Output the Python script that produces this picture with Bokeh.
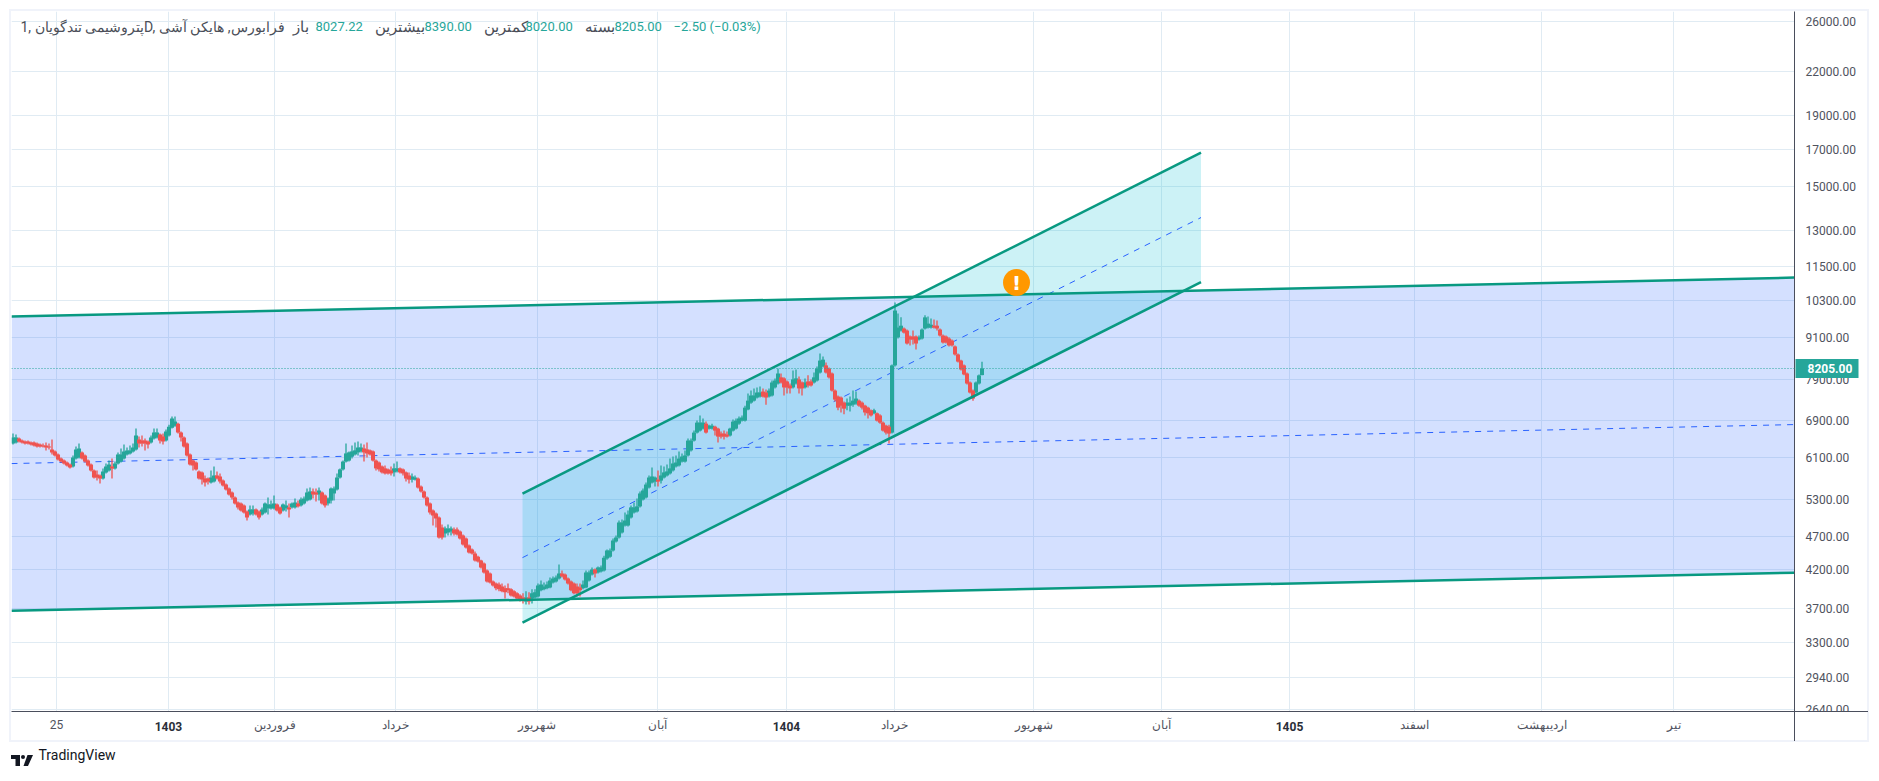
from bokeh.plotting import figure
from bokeh.embed import file_html
from bokeh.resources import INLINE
from bokeh.core.properties import value
from bokeh.layouts import column
from bokeh.models import (FixedTicker, NumeralTickFormatter, Label, Div, Title, LinearAxis, LogAxis,
                          Span, Range1d, ColumnDataSource)

opens = [
6393,6415,6500,6457,6436,6436,6415,6415,6393,6372,
6350,6350,6330,6270,6229,6166,6083,6042,6003,5964,
5925,6083,6103,6208,6145,6042,5964,5848,5770,5750,
5692,5809,5848,5925,5887,5984,6022,6083,6166,6187,
6229,6270,6478,6457,6457,6436,6415,6500,6522,6587,
6544,6457,6566,6741,6785,6831,6631,6522,6393,6166,
6042,6003,5828,5809,5692,5692,5616,5634,5750,5731,
5653,5579,5506,5434,5344,5256,5239,5205,5103,5052,
5069,5137,5103,5052,5086,5154,5154,5154,5222,5171,
5120,5154,5171,5171,5171,5239,5205,5239,5290,5308,
5452,5434,5398,5434,5380,5239,5290,5416,5488,5711,
5867,6022,6042,6124,6166,6208,6229,6290,6270,6250,
6229,6042,6003,5925,5887,5867,5848,5809,5828,5887,
5867,5809,5750,5672,5672,5692,5542,5452,5344,5239,
5120,5069,5001,4838,4742,4758,4774,4806,4806,4774,
4710,4663,4555,4495,4435,4390,4333,4290,4193,4150,
4042,4016,4003,3977,3951,3951,3938,3912,3886,3860,
3834,3782,3834,3820,3834,3847,3925,3938,3951,3964,
4029,4042,4083,4150,4137,4083,4042,4016,3977,3964,
3951,3964,4055,4137,4207,4165,4179,4193,4362,4390,
4480,4616,4678,4758,4870,4870,5001,5086,5103,5188,
5308,5344,5524,5616,5634,5672,5653,5711,5750,5789,
5848,5925,5945,6022,6022,6145,6250,6457,6631,6675,
6719,6831,6719,6719,6763,6719,6609,6609,6587,6566,
6675,6719,6831,6900,6900,7160,7325,7374,7450,7475,
7600,7575,7475,7500,7705,7806,7967,7940,7858,7755,
7705,7806,7912,7832,7705,7858,7858,7832,7884,8095,
8260,8290,8205,8070,7625,7475,7450,7325,7252,7252,
7276,7300,7374,7325,7252,7204,7140,7070,7070,7020,
6854,6785,6763,6631,8290,9100,9307,9370,9307,9125,
9125,9125,9035,9065,9370,9400,9400,9460,9460,9340,
9155,9125,9065,9004,8830,8597,8424,8290,8070,7832,
7625,7575,7806,8027.22]

closes = [
6522,6522,6436,6415,6393,6393,6372,6350,6330,6330,
6330,6310,6310,6208,6145,6062,6022,5984,5945,5906,
6103,6270,6290,6083,6022,5945,5848,5711,5711,5692,
5828,5925,5964,5887,5984,6166,6166,6229,6250,6250,
6310,6566,6393,6393,6393,6372,6522,6631,6631,6457,
6436,6653,6763,6950,6877,6631,6522,6330,6145,5964,
5945,5867,5692,5672,5616,5634,5711,5750,5692,5634,
5560,5488,5398,5344,5239,5171,5120,5086,5001,5137,
5137,5052,5001,5137,5239,5222,5222,5239,5120,5069,
5222,5205,5137,5239,5256,5188,5308,5326,5434,5452,
5398,5398,5470,5239,5205,5326,5506,5506,5711,5867,
6022,6187,6208,6229,6250,6310,6310,6208,6187,6166,
6042,5887,5867,5809,5789,5789,5789,5887,5887,5809,
5789,5692,5672,5731,5711,5524,5452,5344,5205,5086,
5035,4984,4678,4678,4822,4822,4822,4742,4726,4663,
4570,4525,4450,4435,4333,4320,4235,4165,4042,4029,
3990,3951,3938,3912,3899,3925,3860,3847,3820,3794,
3794,3834,3782,3886,3899,3990,4003,3977,4003,4055,
4083,4097,4150,4110,4069,4016,3925,3886,3886,3925,
4003,4165,4165,4207,4150,4235,4235,4376,4480,4480,
4631,4678,4918,4918,4950,5052,5171,5171,5188,5416,
5470,5579,5711,5731,5711,5634,5750,5809,5828,5887,
5984,6003,6083,6124,6145,6457,6457,6631,6854,6854,
6854,6631,6785,6785,6675,6544,6544,6544,6544,6719,
6877,6900,6950,6972,7204,7374,7500,7500,7575,7575,
7475,7450,7625,7832,7884,8070,7832,7705,7705,7680,
7912,7940,7680,7680,7832,7755,7755,7967,8205,8424,
8450,8095,7967,7625,7400,7204,7252,7180,7325,7325,
7374,7425,7252,7204,7090,7070,7020,7140,6900,6854,
6675,6631,6609,8290,9948,9400,9460,9245,8915,9035,
9035,8915,9100,9340,9725,9525,9490,9400,9370,9155,
8945,8945,8860,8860,8597,8396,8178,8045,7806,7575,
7425,7832,8020,8205]

highs = [
6609,6587,6522,6478,6457,6457,6436,6436,6415,6393,
6393,6415,6393,6478,6250,6187,6103,6062,6022,5984,
6145,6330,6393,6229,6166,6062,5984,5867,5848,5770,
5887,5984,6042,6083,6022,6208,6290,6372,6310,6350,
6393,6719,6544,6566,6500,6457,6566,6719,6719,6609,
6609,6697,6808,6995,6995,6854,6653,6544,6415,6187,
6062,6022,5848,5828,5750,5711,5848,5925,5828,5789,
5672,5597,5524,5452,5362,5273,5256,5222,5120,5205,
5205,5154,5120,5171,5256,5344,5290,5380,5239,5188,
5239,5290,5239,5256,5326,5290,5344,5362,5506,5524,
5506,5506,5524,5452,5398,5344,5524,5542,5789,5887,
6042,6393,6229,6350,6415,6436,6393,6372,6415,6270,
6250,6062,6022,5945,5945,5887,5925,5984,6022,5906,
5887,5828,5809,5789,5750,5711,5560,5470,5362,5256,
5137,5086,5018,4886,4854,4886,4854,4838,4838,4790,
4726,4678,4570,4510,4465,4405,4347,4305,4207,4165,
4055,4029,4029,4016,3990,4016,3951,3925,3899,3873,
3886,3912,3899,3938,3938,4016,4055,4029,4042,4097,
4110,4124,4277,4193,4150,4097,4055,4029,4016,4016,
4055,4193,4193,4235,4221,4249,4263,4405,4495,4510,
4663,4710,4950,4967,5086,5120,5205,5256,5326,5452,
5506,5616,5750,5906,5731,5848,5945,5925,5964,6083,
6124,6145,6229,6187,6250,6500,6500,6675,6900,7020,
6950,6877,6808,6831,6785,6741,6653,6675,6653,6741,
6925,6950,6995,7020,7252,7550,7625,7680,7705,7730,
7680,7652,7680,7884,7940,8205,8070,7967,7884,7806,
8150,8178,7993,7858,7940,8020,7912,8095,8260,8625,
8540,8370,8233,8095,7652,7500,7475,7350,7425,7475,
7625,7600,7400,7350,7276,7228,7160,7180,7090,7045,
6877,6808,6808,8315,10216,9850,9725,9400,9340,9155,
9307,9155,9155,9370,9790,9757,9690,9655,9622,9370,
9185,9155,9100,9035,8860,8625,8450,8315,8095,7858,
7652,7858,8045,8390]

lows = [
6372,6393,6415,6393,6372,6372,6350,6330,6310,6310,
6310,6250,6270,6166,6124,6042,6003,5964,5925,5887,
5906,6062,6083,6062,6003,5925,5828,5692,5653,5597,
5672,5789,5828,5692,5867,5964,6003,6062,6145,6166,
6208,6250,6310,6330,6250,6290,6393,6478,6500,6393,
6372,6436,6544,6719,6763,6609,6436,6310,6124,5945,
5848,5848,5672,5579,5542,5579,5597,5616,5672,5597,
5542,5470,5380,5308,5222,5137,5103,5069,4950,5035,
5035,5035,4967,5035,5069,5052,5137,5137,5103,5052,
5103,5103,5001,5154,5154,5171,5188,5222,5273,5290,
5326,5273,5290,5222,5171,5205,5239,5290,5470,5692,
5848,6003,6022,6083,6145,6145,6208,6022,6103,6145,
6022,5848,5828,5789,5770,5770,5750,5731,5809,5789,
5750,5634,5597,5616,5653,5506,5434,5326,5188,5052,
4870,4838,4663,4647,4678,4710,4710,4710,4710,4647,
4555,4510,4435,4420,4320,4305,4221,4150,4029,4016,
3977,3925,3912,3899,3820,3886,3847,3834,3807,3782,
3758,3745,3745,3758,3820,3834,3912,3925,3938,3951,
4016,4029,4069,4097,4055,4003,3912,3873,3847,3847,
3938,3951,4042,4124,4097,4150,4165,4179,4347,4376,
4465,4600,4663,4742,4854,4854,4984,5069,5086,5171,
5290,5326,5506,5597,5542,5542,5597,5692,5731,5770,
5828,5906,5925,6003,6003,6124,6229,6436,6609,6653,
6697,6609,6697,6697,6566,6415,6500,6478,6522,6544,
6653,6697,6808,6877,6877,7140,7300,7350,7425,7450,
7450,7276,7450,7475,7680,7780,7806,7500,7550,7550,
7680,7780,7550,7500,7680,7705,7730,7806,7858,8070,
8233,8070,7940,7600,7350,7140,7090,7045,7140,7115,
7228,7276,7228,7160,7020,6950,6995,7045,6877,6831,
6653,6587,6393,6609,8260,9065,9275,9215,8890,8860,
8890,8740,9004,9035,9340,9370,9370,9370,9307,9125,
8915,8915,8830,8830,8568,8370,8150,8020,7780,7550,
7374,7550,7780,8020]

last_price = 8205.0

price_ticks = [2640, 2940, 3300, 3700, 4200, 4700, 5300, 6100, 6900, 7900, 9100, 10300,
               11500, 13000, 15000, 17000, 19000, 22000, 26000]
time_ticks = [14.5, 51.8, 87.2, 127.5, 174.8, 214.8, 257.8, 293.8, 340.2, 382.8, 425.5, 467.2, 509.5, 553.5]
time_labels = ["25", "1403", "فروردین", "خرداد", "شهریور", "آبان", "1404", "خرداد", "شهریور", "آبان",
               "1405", "اسفند", "اردیبهشت", "تیر"]

wide_x = [-0.5, 593.83]
wide_upper = [9751, 11100]
wide_mid = [5982, 6810]
wide_lower = [3668, 4162]

steep_x = [169.83, 396.0]
steep_upper = [5414, 16820]
steep_mid = [4376, 13551]
steep_lower = [3525, 10933]

alert_x = [334.5]
alert_y = [10918]

TEAL = "#26a69a"
RED = "#ef5350"
LINE = "#089981"
AXIS = "#4a4e5c"
TXT = "#50535e"

p = figure(width=1871, height=773, output_backend="svg", toolbar_location=None,
           y_axis_type="log", y_axis_location="right",
           x_range=Range1d(-0.5, 593.83), y_range=Range1d(2624, 26879),
           min_border_left=11, min_border_top=11, min_border_right=77, min_border_bottom=62,
           background_fill_color="white", border_fill_color="white", margin=(0, 0, 0, 0))
p.outline_line_color = None

ya = p.yaxis[0]
ya.ticker = FixedTicker(ticks=price_ticks)
ya.formatter = NumeralTickFormatter(format="0.00")
ya.major_tick_line_color = None
ya.minor_tick_line_color = None
ya.major_tick_out = 0
ya.major_tick_in = 0
ya.axis_line_color = AXIS
ya.major_label_standoff = 11
ya.major_label_text_font = "Roboto"
ya.major_label_text_font_size = "12px"
ya.major_label_text_color = TXT

# the last price tag: a second scale, whose one tick is drawn as a wide bar over the first scale
tag = LogAxis(ticker=FixedTicker(ticks=[last_price]), formatter=NumeralTickFormatter(format="0.00"),
              axis_line_color=None, minor_tick_line_color=None,
              major_tick_line_color=TEAL, major_tick_line_width=19,
              major_tick_in=63, major_tick_out=0, major_label_standoff=-51,
              major_label_text_color="white", major_label_text_font="Roboto",
              major_label_text_font_style="bold", major_label_text_font_size="12px")
p.add_layout(tag, "right")

plain_ticks = [t for t, l in zip(time_ticks, time_labels) if not l.startswith("140")]
year_ticks = [t for t, l in zip(time_ticks, time_labels) if l.startswith("140")]

xa = p.xaxis[0]
xa.ticker = FixedTicker(ticks=plain_ticks)
xa.major_label_overrides = {t: l for t, l in zip(time_ticks, time_labels) if t in plain_ticks}
xa.major_tick_line_color = None
xa.minor_tick_line_color = None
xa.major_tick_out = 0
xa.major_tick_in = 0
xa.axis_line_color = AXIS
xa.major_label_standoff = 6
xa.major_label_text_font = "Roboto"
xa.major_label_text_font_size = "12px"
xa.major_label_text_color = TXT

xb = LinearAxis(ticker=FixedTicker(ticks=year_ticks),
                major_label_overrides={t: l for t, l in zip(time_ticks, time_labels) if t in year_ticks},
                axis_line_color=None, major_tick_line_color=None, minor_tick_line_color=None,
                major_tick_in=0, major_tick_out=0, major_label_standoff=-13,
                major_label_text_font="Roboto", major_label_text_font_size="12px",
                major_label_text_font_style="bold", major_label_text_color="#2a2e39")
p.add_layout(xb, "below")

# an empty scale, only to push the wordmark down
gap = LinearAxis(ticker=FixedTicker(ticks=[]), axis_line_color=None, major_tick_line_color=None,
                 minor_tick_line_color=None, major_tick_in=0, major_tick_out=5, major_label_standoff=0)
p.add_layout(gap, "below")

p.add_layout(Title(text="TradingView", align="left", offset=27, standoff=21, text_font="Roboto",
                   text_font_size="14px", text_font_style="normal", text_color="#131722"), "below")

p.xgrid[0].ticker = FixedTicker(ticks=time_ticks)
p.ygrid[0].ticker = FixedTicker(ticks=price_ticks)
p.xgrid[0].grid_line_color = "#e0ebf3"
p.ygrid[0].grid_line_color = "#e0ebf3"

p.varea(x=wide_x, y1=wide_lower, y2=wide_upper, fill_color="#2962ff", fill_alpha=0.2)
p.varea(x=steep_x, y1=steep_lower, y2=steep_upper, fill_color="#00bcd4", fill_alpha=0.2)
p.line(wide_x, wide_mid, line_color="#2962ff", line_width=1, line_dash="6 6")
p.line(steep_x, steep_mid, line_color="#2962ff", line_width=1, line_dash="6 6")

p.add_layout(Span(location=last_price, dimension="width", line_color=TEAL, line_width=1, line_dash="1 2"))

idx = list(range(len(closes)))
up = [i for i in idx if closes[i] >= opens[i]]
dn = [i for i in idx if closes[i] < opens[i]]
for sel, col in ((up, TEAL), (dn, RED)):
    src = ColumnDataSource(dict(x=sel,
                                o=[opens[i] for i in sel], c=[closes[i] for i in sel],
                                h=[highs[i] for i in sel], l=[lows[i] for i in sel]))
    p.segment(x0="x", x1="x", y0="l", y1="h", source=src, line_color=col, line_width=1.3)
    p.vbar(x="x", bottom="o", top="c", width=1.35, source=src, fill_color=col, line_color=None)

for ys in (wide_upper, wide_lower):
    p.line(wide_x, ys, line_color=LINE, line_width=2.5)
for ys in (steep_upper, steep_lower):
    p.line(steep_x, ys, line_color=LINE, line_width=2.5)

p.scatter(alert_x, alert_y, size=27, color="#ff9800", line_color=None)
p.text(alert_x, alert_y, text=["!"], text_color="white", text_font=value("DejaVu Sans"),
       text_font_style="bold", text_font_size="20px", text_align="center", text_baseline="middle")

# legend row
GRAY = "#4a4e58"
legend = [
    (20, "1, پتروشیمی تندگویانD, فرابورس, هایکن آشی", GRAY, "14px"),
    (292, "باز", GRAY, "15px"), (315, "8027.22", TEAL, "13px"),
    (374, "بیشترین", GRAY, "15px"), (424, "8390.00", TEAL, "13px"),
    (483, "کمترین", GRAY, "15px"), (525, "8020.00", TEAL, "13px"),
    (584, "بسته", GRAY, "15px"), (614, "8205.00", TEAL, "13px"),
    (673, "−2.50 (−0.03%)", TEAL, "13px"),
]
for x, t, c, fs in legend:
    p.add_layout(Label(x=x, x_units="canvas", y=26, y_units="canvas", text=t, text_color=c,
                       text_font="Roboto", text_font_size=fs, text_baseline="middle"))

# chrome round the pane, laid over the canvas from a zero-flow block right under it
ROOT_TOP = 777

def block(left, top, w, h, css):
    return (f'<div style="position:absolute;left:{left}px;top:{top-ROOT_TOP}px;width:{w}px;height:{h}px;'
            f'box-sizing:border-box;{css}"></div>')

chrome = (
    '<div style="position:relative;width:1871px;height:8px;">'
    + block(1795, 712, 62, 8, "background:white")
    + block(9, 9, 1860, 733, "border:2px solid #f0f3fa")
    + block(1794, 711, 1, 30, f"background:{AXIS}")
    + block(1794, 711, 74, 1, f"background:{AXIS}")
    + f'<svg style="position:absolute;left:11px;top:{755-ROOT_TOP}px" width="23" height="12" viewBox="0 0 23 12">'
      '<path fill="#131722" d="M0 0H9V11H4.5V4H0Z"/><circle cx="12" cy="2" r="2" fill="#131722"/>'
      '<path fill="#131722" d="M16.5 0H22L17 11H12.5Z"/></svg>'
    + '</div>'
)
overlay = Div(text=chrome, width=1871, height=8, margin=(0, 0, 0, 0), styles={"overflow": "visible"})

page = column(p, overlay, spacing=0, margin=(0, 0, 0, 0))
open("out.html", "w").write(file_html(page, INLINE))
